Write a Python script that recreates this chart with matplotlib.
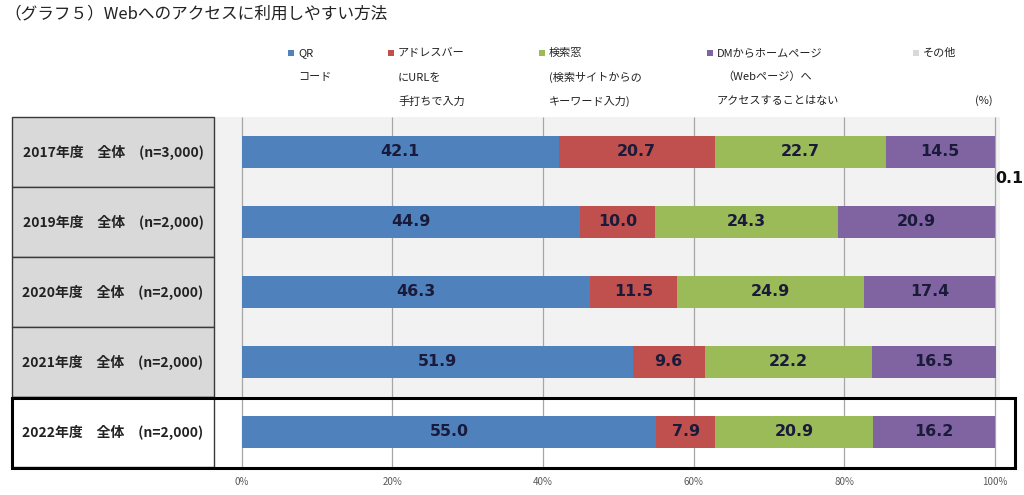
import matplotlib.pyplot as plt
from matplotlib.patches import Rectangle

plt.rcParams['font.family'] = ['Noto Sans CJK JP', 'DejaVu Sans']

# data
row_labels = ['2017年度　全体　(n=3,000)', '2019年度　全体　(n=2,000)',
              '2020年度　全体　(n=2,000)', '2021年度　全体　(n=2,000)',
              '2022年度　全体　(n=2,000)']
qr_code = [42.1, 44.9, 46.3, 51.9, 55.0]
address_bar = [20.7, 10.0, 11.5, 9.6, 7.9]
search_box = [22.7, 24.3, 24.9, 22.2, 20.9]
no_access = [14.5, 20.9, 17.4, 16.5, 16.2]
other = [0.1, 0.0, 0.0, 0.0, 0.0]
series = [qr_code, address_bar, search_box, no_access, other]
legend_lines = [
    ['QR', 'コード'],
    ['アドレスバー', 'にURLを', '手打ちで入力'],
    ['検索窓', '(検索サイトからの', 'キーワード入力)'],
    ['DMからホームページ', '（Webページ）へ', 'アクセスすることはない'],
    ['その他'],
]
x_ticks = [0, 20, 40, 60, 80, 100]
x_tick_labels = ['0%', '20%', '40%', '60%', '80%', '100%']

colors = ['#4f81bd', '#c0504d', '#9bbb59', '#8064a2', '#d9d9d9']
W, H = 1024, 495


def fx(px):
    return px / W


def fy(py):
    return 1 - py / H


fig = plt.figure(figsize=(W / 100, H / 100), dpi=100)

# title
fig.text(fx(4), fy(14), '（グラフ５）Webへのアクセスに利用しやすい方法',
         fontsize=12, va='center', ha='left', color='#222222')

# plot area
ax = fig.add_axes([fx(214), fy(467), 786 / W, 350 / H])
ax.set_xlim(-3.7, 100.7)
ax.set_ylim(4.5, -0.5)
ax.set_facecolor('#f2f2f2')
ax.axhspan(3.5, 4.5, color='white', zorder=0)
ax.vlines(x_ticks, -0.5, 4.5, color='#a6a6a6', lw=0.9, zorder=1)
for s in ax.spines.values():
    s.set_visible(False)
ax.set_yticks([])
ax.set_xticks(x_ticks)
ax.set_xticklabels(x_tick_labels, fontsize=7, color='#595959')
ax.tick_params(axis='x', length=0, pad=7)

rows = range(len(row_labels))
left = [0.0] * len(row_labels)
for vals, col in zip(series, colors):
    ax.barh(rows, vals, left=left, height=0.47, color=col, zorder=2)
    for i, v in enumerate(vals):
        if v >= 1:
            ax.text(left[i] + v / 2, i, f'{v:.1f}', ha='center', va='center',
                    fontsize=11.4, fontweight='bold', color='#1a1a3a',
                    family='DejaVu Sans', zorder=3)
    left = [l + v for l, v in zip(left, vals)]

# small "other" value shown outside the first bar
ax.text(101.9, 0.38, f'{other[0]:.1f}', ha='center', va='center', fontsize=11.4,
        fontweight='bold', color='#111111', family='DejaVu Sans', clip_on=False)

# left-hand label table
for i, lab in enumerate(row_labels):
    top = 117 + 70 * i
    face = 'white' if i == len(row_labels) - 1 else '#d9d9d9'
    fig.patches.append(Rectangle((fx(12), fy(top + 70)), 202 / W, 70 / H,
                                 transform=fig.transFigure, facecolor=face,
                                 edgecolor='#3a3a3a', lw=1))
    fig.text(fx(113), fy(top + 35), lab, ha='center', va='center',
             fontsize=10, fontweight='bold', color='#222222', zorder=5)

# highlight box around latest year
fig.patches.append(Rectangle((fx(12), fy(468)), 1003 / W, 70 / H,
                             transform=fig.transFigure, fill=False,
                             edgecolor='black', lw=2.2, zorder=6))

# legend
leg_x = [291, 391, 542, 710, 916]
for x0, lines, col in zip(leg_x, legend_lines, colors):
    fig.patches.append(Rectangle((fx(x0 - 3), fy(56)), 6 / W, 6 / H,
                                 transform=fig.transFigure, facecolor=col,
                                 edgecolor='none'))
    for k, line in enumerate(lines):
        xx = x0 + 7
        if line.startswith('（'):
            xx = x0 + 12
        fig.text(fx(xx), fy(53 + 24 * k), line, ha='left', va='center',
                 fontsize=8, color='#222222')
fig.text(fx(984), fy(101), '(%)', ha='center', va='center', fontsize=8,
         color='#222222')

fig.savefig('out.png', dpi=100)
